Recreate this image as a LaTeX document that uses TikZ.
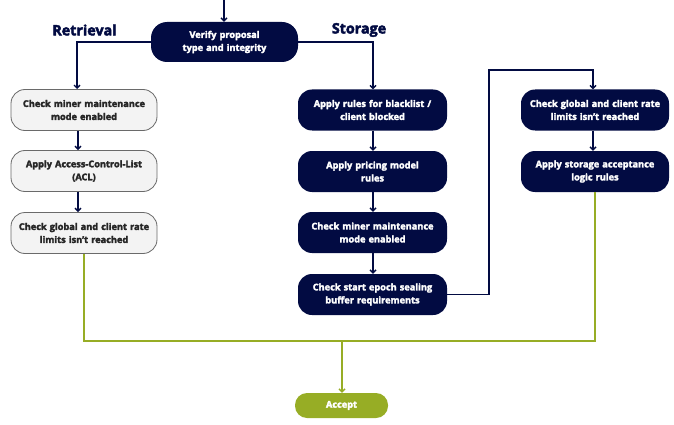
\documentclass[tikz,border=0pt]{standalone}
\usepackage{fontspec}
\setmainfont{Open Sans}
\newfontfamily\heavyfont{Open Sans}[FakeBold=3]
\usetikzlibrary{arrows.meta}
\definecolor{navy}{HTML}{020B42}
\definecolor{lime}{HTML}{97AD25}
\definecolor{lgray}{HTML}{F3F3F3}
\definecolor{gborder}{HTML}{6A6A6A}
\begin{document}
\begin{tikzpicture}[x=1pt,y=-1pt,
  base/.style={rounded corners=14pt, align=center, inner sep=0pt,
    font=\heavyfont\bfseries\fontsize{9.2}{13}\selectfont, text width=146pt},
  darkbox/.style={base, fill=navy, text=white, minimum width=149pt, minimum height=41pt},
  lightbox/.style={base, fill=lgray, draw=gborder, line width=0.8pt, text=black!85, minimum width=146pt, minimum height=41pt},
  acceptbox/.style={base, fill=lime, text=white, minimum width=93pt, minimum height=25pt, rounded corners=12pt, text width=90pt},
  flow/.style={draw=navy, line width=1.4pt, -{Straight Barb[length=3pt,width=6pt]}},
  gflow/.style={draw=lime, line width=1.4pt},
  gflowarr/.style={draw=lime, line width=1.4pt, -{Straight Barb[length=3pt,width=6pt]}},
  head/.style={text=navy, font=\heavyfont\bfseries\fontsize{14.3}{16}\selectfont}
]
\useasboundingbox (0,0) rectangle (674,425);

\coordinate (top) at (224,0);
\node[darkbox, minimum width=147pt, minimum height=40pt, rounded corners=16pt] (verify) at (224.5,42) {Verify proposal\\type and integrity};
\node[head] (hret) at (84.5,30) {Retrieval};
\node[head] (hsto) at (359,30) {Storage};

\node[lightbox] (l1) at (84,110) {Check miner maintenance\\mode enabled};
\node[lightbox] (l2) at (84,171) {Apply Access-Control-List\\(ACL)};
\node[lightbox] (l3) at (84,233) {Check global and client rate\\limits isn’t reached};

\node[darkbox] (s1) at (372.5,110) {Apply rules for blacklist /\\client blocked};
\node[darkbox] (s2) at (372.5,171.5) {Apply pricing model\\rules};
\node[darkbox] (s3) at (372.5,232.5) {Check miner maintenance\\mode enabled};
\node[darkbox] (s4) at (372.5,294.5) {Check start epoch sealing\\buffer requirements};

\node[darkbox, minimum width=148pt] (r1) at (595,110) {Check global and client rate\\limits isn’t reached};
\node[darkbox, minimum width=148pt] (r2) at (595,171.5) {Apply storage acceptance\\logic rules};

\node[acceptbox] (acc) at (341.5,405.5) {Accept};

\draw[flow] (top) -- (verify.north -| top);
\draw[flow] (verify.west) -| (77,89);
\draw[flow] (verify.east) -| (s1.north -| 373,0);
\draw[flow] (l1.south -| 78,0) -- (l2.north -| 78,0);
\draw[flow] (l2.south -| 78,0) -- (l3.north -| 78,0);
\draw[flow] (s1.south -| 373,0) -- (s2.north -| 373,0);
\draw[flow] (s2.south -| 373,0) -- (s3.north -| 373,0);
\draw[flow] (s3.south -| 373,0) -- (s4.north -| 373,0);
\draw[flow] (s4.east) -- (489,294.5) -- (489,70) -- (593,70) -- (r1.north -| 593,0);
\draw[flow] (r1.south -| 593,0) -- (r2.north -| 593,0);

\coordinate (gl) at (84,341);
\coordinate (gr) at (595,341);
\coordinate (gm) at (342,341);
\draw[gflow] (l3.south) -- (gl) -- (gr) -- (r2.south);
\draw[gflowarr] (gm) -- (acc.north -| gm);
\end{tikzpicture}
\end{document}
